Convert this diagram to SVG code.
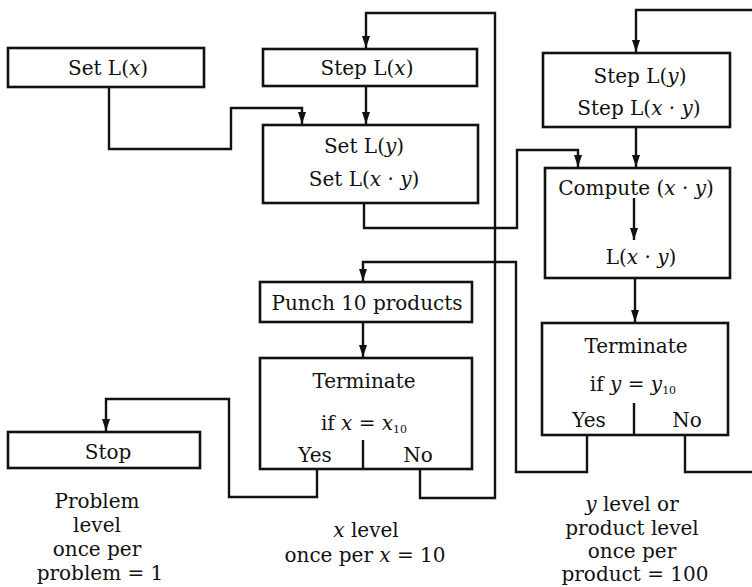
<svg xmlns="http://www.w3.org/2000/svg" width="752" height="587" viewBox="0 0 752 587">
<style>
  .box { fill: #fff; stroke: #111; stroke-width: 2.6; }
  .ln { fill: none; stroke: #111; stroke-width: 2.4; stroke-linejoin: miter; }
  text { font-family: "DejaVu Serif", "Liberation Serif", serif; font-size: 20px; fill: #111; text-anchor: middle; }
  .i { font-style: italic; }
  .sub { font-size: 11px; }
</style>
<defs>
  <marker id="arr" viewBox="0 0 12 8" refX="12" refY="4" markerWidth="12" markerHeight="8" markerUnits="userSpaceOnUse" orient="auto">
    <path d="M0,0 L12,4 L0,8 z" fill="#111"/>
  </marker>
</defs>
<rect width="752" height="587" fill="#fff"/>

<g id="connectors">
  <path class="ln" d="M109,87 V149 H231 V108 H302 V124" marker-end="url(#arr)"/>
  <path class="ln" d="M366,86 V124" marker-end="url(#arr)"/>
  <path class="ln" d="M364,203 V228 H517 V150 H578 V167" marker-end="url(#arr)"/>
  <path class="ln" d="M636,127 V167" marker-end="url(#arr)"/>
  <path class="ln" d="M635,278 V322" marker-end="url(#arr)"/>
  <path class="ln" d="M587,435 V472 H516 V262 H363 V281" marker-end="url(#arr)"/>
  <path class="ln" d="M685,435 V472 H752"/>
  <path class="ln" d="M752,10 H636 V52" marker-end="url(#arr)"/>
  <path class="ln" d="M363,322 V357" marker-end="url(#arr)"/>
  <path class="ln" d="M420,469 V498 H495 V13 H366 V48" marker-end="url(#arr)"/>
  <path class="ln" d="M317,469 V497 H229 V399 H106 V431" marker-end="url(#arr)"/>
</g>

<g id="setLx">
  <rect class="box" x="8" y="48" width="196" height="39"/>
  <text x="108" y="75">Set L(<tspan class="i">x</tspan>)</text>
</g>

<g id="stepLx">
  <rect class="box" x="263" y="49" width="214" height="37"/>
  <text x="367" y="75">Step L(<tspan class="i">x</tspan>)</text>
</g>

<g id="setLy">
  <rect class="box" x="263" y="125" width="215" height="78"/>
  <text x="364" y="153">Set L(<tspan class="i">y</tspan>)</text>
  <text x="364" y="186">Set L(<tspan class="i">x</tspan> · <tspan class="i">y</tspan>)</text>
</g>

<g id="punch">
  <rect class="box" x="260" y="282" width="212" height="40"/>
  <text x="367" y="310">Punch 10 products</text>
</g>

<g id="termx">
  <rect class="box" x="260" y="358" width="212" height="111"/>
  <text x="364" y="388">Terminate</text>
  <text x="364" y="430">if <tspan class="i">x</tspan> = <tspan class="i">x</tspan><tspan class="sub" dy="3">10</tspan></text>
  <text x="315" y="462">Yes</text>
  <text x="418" y="462">No</text>
  <path class="ln" d="M363,440 V469"/>
</g>

<g id="stop">
  <rect class="box" x="8" y="432" width="192" height="36"/>
  <text x="108" y="459">Stop</text>
</g>

<g id="stepLy">
  <rect class="box" x="543" y="53" width="187" height="74"/>
  <text x="640" y="83">Step L(<tspan class="i">y</tspan>)</text>
  <text x="639" y="115">Step L(<tspan class="i">x</tspan> · <tspan class="i">y</tspan>)</text>
</g>

<g id="compute">
  <rect class="box" x="545" y="168" width="185" height="110"/>
  <text x="636" y="195">Compute  (<tspan class="i">x</tspan> · <tspan class="i">y</tspan>)</text>
  <path class="ln" d="M634,198 V240" marker-end="url(#arr)"/>
  <text x="641" y="264">L(<tspan class="i">x</tspan> · <tspan class="i">y</tspan>)</text>
</g>

<g id="termy">
  <rect class="box" x="542" y="323" width="186" height="112"/>
  <text x="636" y="353">Terminate</text>
  <text x="633" y="391">if <tspan class="i">y</tspan> = <tspan class="i">y</tspan><tspan class="sub" dy="3">10</tspan></text>
  <text x="589" y="427">Yes</text>
  <text x="687" y="427">No</text>
  <path class="ln" d="M634,403 V435"/>
</g>

<g id="label-problem">
  <text x="97" y="508">Problem</text>
  <text x="97" y="532">level</text>
  <text x="97" y="556">once per</text>
  <text x="100" y="580">problem = 1</text>
</g>

<g id="label-x">
  <text x="366" y="537"><tspan class="i">x</tspan> level</text>
  <text x="365" y="562">once per <tspan class="i">x</tspan> =  10</text>
</g>

<g id="label-y">
  <text x="632" y="511"><tspan class="i">y</tspan> level or</text>
  <text x="632" y="535">product level</text>
  <text x="632" y="558">once per</text>
  <text x="635" y="581">product = 100</text>
</g>
</svg>
